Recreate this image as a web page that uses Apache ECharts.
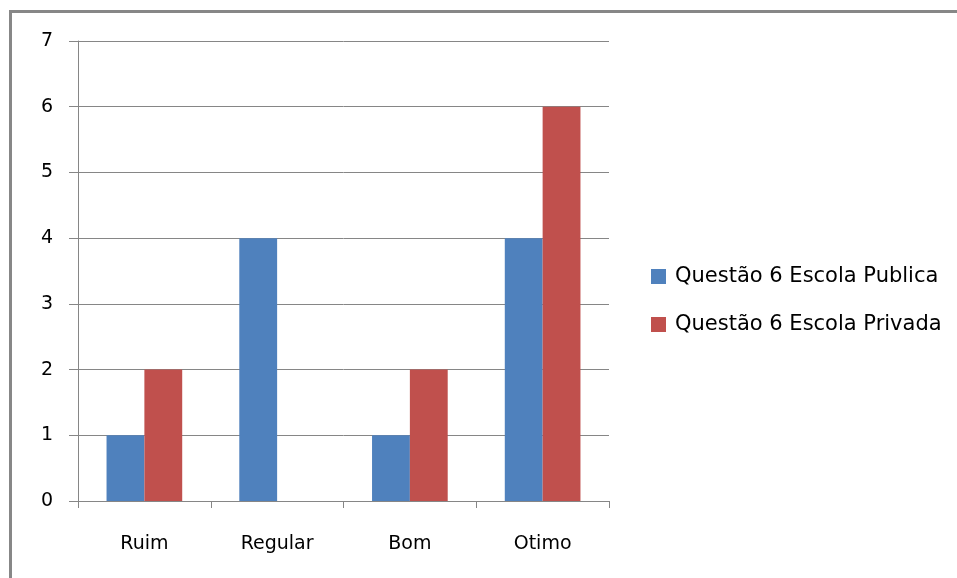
<!DOCTYPE html>
<html>
<head>
<meta charset="utf-8">
<script src="https://cdn.jsdelivr.net/npm/echarts@6/dist/echarts.min.js"></script>
<style>
  html, body { margin: 0; padding: 0; background: #fff; }
  #chart { width: 957px; height: 578px; }
</style>
</head>
<body>
<div id="chart"></div>
<script>
// Ratings for question 6, public vs private school
const categories = ['Ruim', 'Regular', 'Bom', 'Otimo'];
const publica = [1, 4, 1, 4];
const privada = [2, 0, 2, 6];
const seriesNames = ['Questão 6 Escola Publica', 'Questão 6 Escola Privada'];

const font = '"DejaVu Sans", "Open Sans", sans-serif';
const chart = echarts.init(document.getElementById('chart'), null, { renderer: 'canvas' });

chart.setOption({
  animation: false,
  backgroundColor: '#fff',
  color: ['#4F81BD', '#C0504D'],
  grid: { left: 78, right: 348, top: 41, bottom: 77, containLabel: false },
  graphic: [{
    type: 'rect',
    shape: { x: 10.5, y: 11.5, width: 1200, height: 1200 },
    style: { fill: 'none', stroke: '#878787', lineWidth: 3 },
    silent: true
  }],
  legend: {
    orient: 'vertical',
    left: 646,
    top: 261,
    itemWidth: 15,
    itemHeight: 15,
    itemGap: 27,
    icon: 'rect',
    textStyle: { fontFamily: font, fontSize: 21, color: '#000', padding: [0, 0, 0, 4] },
    data: seriesNames
  },
  xAxis: {
    type: 'category',
    data: categories,
    axisLine: { lineStyle: { color: '#868686', width: 1 } },
    axisTick: { show: true, length: 7, lineStyle: { color: '#868686' } },
    axisLabel: { fontFamily: font, fontSize: 19, color: '#000', margin: 34 }
  },
  yAxis: {
    type: 'value',
    min: 0,
    max: 7,
    interval: 1,
    axisLine: { show: true, lineStyle: { color: '#868686' } },
    axisTick: { show: true, length: 9, lineStyle: { color: '#868686' } },
    axisLabel: { fontFamily: font, fontSize: 19, color: '#000', margin: 25 },
    splitLine: { show: true, lineStyle: { color: '#868686', width: 1 } }
  },
  series: [
    {
      name: seriesNames[0],
      type: 'bar',
      data: publica,
      barGap: '0%',
      barCategoryGap: '43%'
    },
    {
      name: seriesNames[1],
      type: 'bar',
      data: privada,
      barGap: '0%',
      barCategoryGap: '43%'
    }
  ]
});
</script>
</body>
</html>
